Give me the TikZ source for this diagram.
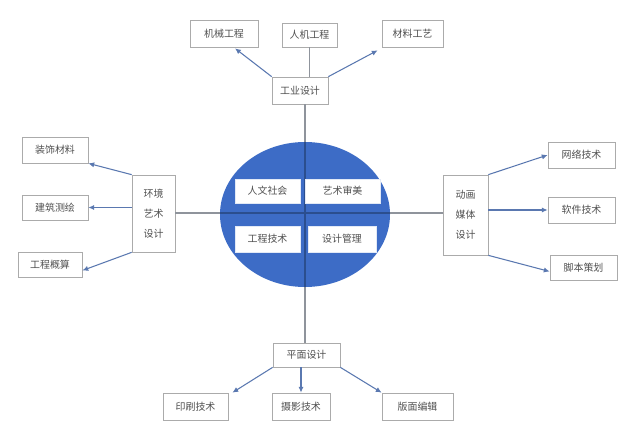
\documentclass[tikz,border=0pt]{standalone}
\usepackage{fontspec}
\newfontfamily\cjk{Noto Sans CJK SC}
\usetikzlibrary{arrows.meta,calc,shapes.geometric}
\definecolor{boxline}{HTML}{ABABAB}
\definecolor{txt}{HTML}{505050}
\definecolor{arr}{HTML}{5A78B0}
\definecolor{axis}{HTML}{8F949C}
\definecolor{blob}{HTML}{3D6CC6}
\definecolor{axisdark}{HTML}{2B4E8E}
\begin{document}
\begin{tikzpicture}[x=0.03cm,y=-0.03cm,
  box/.style={draw=boxline,line width=0.6pt,fill=white,inner sep=0pt,
    font=\cjk\fontsize{8.5}{10}\selectfont,text=txt,align=center},
  inbox/.style={draw=white!85!blob,line width=0.4pt,fill=white,inner sep=0pt,
    font=\cjk\fontsize{8.5}{10}\selectfont,text=txt},
  conn/.style={draw=arr,line width=0.9pt,-{Latex[length=5pt,width=4.5pt]}},
  plain/.style={draw=axis,line width=0.9pt},
  vtext/.style={align=center,font=\cjk\fontsize{8.5}{17}\selectfont}
]
\fill[white] (0,0) rectangle (620,427);
\coordinate (c) at (305,213);

% top
\node[box,minimum width=68*0.03cm,minimum height=27*0.03cm] (jx) at (224,33.5) {机械工程};
\node[box,minimum width=55*0.03cm,minimum height=24*0.03cm] (rj) at (309.5,35) {人机工程};
\node[box,minimum width=61*0.03cm,minimum height=27*0.03cm] (cl) at (412.5,33.5) {材料工艺};
\node[box,minimum width=56*0.03cm,minimum height=27*0.03cm] (gy) at (300,90.5) {工业设计};

% left
\node[box,minimum width=66*0.03cm,minimum height=26*0.03cm] (zs) at (55,150) {装饰材料};
\node[box,minimum width=66*0.03cm,minimum height=25*0.03cm] (jz) at (55,207.5) {建筑测绘};
\node[box,minimum width=64*0.03cm,minimum height=25*0.03cm] (gc) at (50,264.5) {工程概算};
\node[box,vtext,minimum width=43*0.03cm,minimum height=77*0.03cm] (hj) at (153.5,213.5) {环境\\艺术\\设计};

% right
\node[box,vtext,minimum width=45*0.03cm,minimum height=80*0.03cm] (dh) at (465.5,215) {动画\\媒体\\设计};
\node[box,minimum width=67*0.03cm,minimum height=26*0.03cm] (wl) at (581.5,155) {网络技术};
\node[box,minimum width=67*0.03cm,minimum height=26*0.03cm] (rj2) at (581.5,210) {软件技术};
\node[box,minimum width=67*0.03cm,minimum height=25*0.03cm] (jb) at (583.5,267.5) {脚本策划};

% bottom
\node[box,minimum width=67*0.03cm,minimum height=24*0.03cm] (pm) at (306.5,355) {平面设计};
\node[box,minimum width=65*0.03cm,minimum height=27*0.03cm] (ys) at (195.5,406.5) {印刷技术};
\node[box,minimum width=58*0.03cm,minimum height=27*0.03cm] (sy) at (301,406.5) {摄影技术};
\node[box,minimum width=71*0.03cm,minimum height=27*0.03cm] (bm) at (417.5,406.5) {版面编辑};

% axes (behind the ellipse)
\draw[plain] (gy.south -| c) -- (pm.north -| c);
\draw[plain] (hj.east |- c) -- (dh.west |- c);

% central ellipse
\node[ellipse,fill=blob,minimum width=170*0.03cm,minimum height=145*0.03cm,inner sep=0pt] (core) at (305,214.5) {};
\begin{scope}
  \clip (core.center) ellipse [x radius=85*0.03cm, y radius=72.5*0.03cm];
  \draw[axisdark,line width=0.9pt] (gy.south -| c) -- (pm.north -| c);
  \draw[axisdark,line width=0.9pt] (hj.east |- c) -- (dh.west |- c);
\end{scope}

% inner boxes
\node[inbox,minimum width=65*0.03cm,minimum height=24*0.03cm] (rw) at (267.5,191) {人文社会};
\node[inbox,minimum width=75*0.03cm,minimum height=24*0.03cm] (yssm) at (342.5,191) {艺术审美};
\node[inbox,minimum width=65*0.03cm,minimum height=26*0.03cm] (gj) at (267.5,239) {工程技术};
\node[inbox,minimum width=68*0.03cm,minimum height=26*0.03cm] (sj) at (342,239) {设计管理};

% top connectors
\draw[conn] (gy.north west) -- ($(jx.south)+(11,1)$);
\draw[plain] (rj.south |- gy.north) -- (rj.south);
\draw[conn] (gy.north east) -- ($(cl.south west)+(-4,3)$);

% left connectors
\draw[conn] (hj.north west) -- (zs.south east);
\draw[conn] (hj.west |- jz.east) -- (jz.east);
\draw[conn] (hj.south west) -- ($(gc.east)+(0,6)$);

% right connectors
\draw[conn] (dh.north east) -- (wl.west);
\draw[conn] (dh.east |- rj2.west) -- (rj2.west);
\draw[conn] (dh.south east) -- ($(jb.west)+(0,4)$);

% bottom connectors
\draw[conn] (pm.south west) -- ($(ys.north east)+(4,0)$);
\draw[conn] (sy.north |- pm.south) -- (sy.north);
\draw[conn] (pm.south east) -- (bm.north west);
\end{tikzpicture}
\end{document}
